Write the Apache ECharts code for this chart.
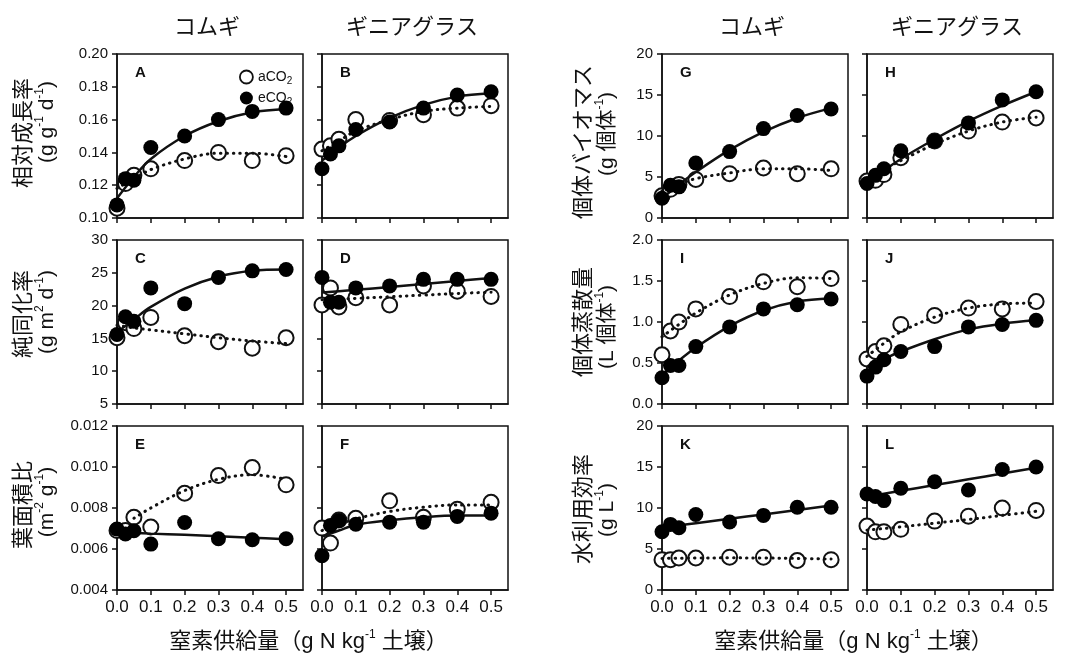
<!DOCTYPE html>
<html>
<head>
<meta charset="utf-8">
<script src="https://cdn.jsdelivr.net/npm/echarts@6/dist/echarts.min.js"></script>
<style>
  html, body { margin: 0; padding: 0; background: #fff; }
  #chart { width: 1070px; height: 654px; }
</style>
</head>
<body>
<div id="chart"></div>
<script>
// 窒素供給量 levels (g N kg-1 soil)
const nLevels = [0, 0.025, 0.05, 0.1, 0.2, 0.3, 0.4, 0.5];
// x positions where the fitted curves were read
const fitLevels = [0, 0.05, 0.1, 0.2, 0.3, 0.4, 0.5];
const xTicks = [0, 0.1, 0.2, 0.3, 0.4, 0.5];

// A / B  相対成長率 (コムギ / ギニアグラス)
const aA = [0.106, 0.121, 0.126, 0.130, 0.135, 0.140, 0.135, 0.138];
const eA = [0.108, 0.124, 0.123, 0.143, 0.150, 0.160, 0.165, 0.167];
const aFitA = [0.118, 0.124, 0.1295, 0.136, 0.1395, 0.1395, 0.1375];
const eFitA = [0.112, 0.125, 0.136, 0.150, 0.159, 0.1645, 0.1665];
const aB = [0.142, 0.144, 0.148, 0.160, 0.1595, 0.163, 0.167, 0.1685];
const eB = [0.130, 0.139, 0.144, 0.154, 0.1585, 0.167, 0.175, 0.177];
const aFitB = [0.141, 0.147, 0.153, 0.160, 0.165, 0.167, 0.168];
const eFitB = [0.135, 0.143, 0.150, 0.161, 0.169, 0.174, 0.176];

// C / D  純同化率
const aC = [15.1, 17.4, 16.5, 18.2, 15.4, 14.5, 13.5, 15.1];
const eC = [15.6, 18.3, 17.6, 22.7, 20.3, 24.3, 25.3, 25.5];
const aFitC = [17.0, 16.6, 16.3, 15.7, 15.1, 14.6, 14.2];
const eFitC = [15.9, 17.9, 19.8, 22.6, 24.4, 25.3, 25.5];
const aD = [20.1, 22.7, 19.8, 21.2, 20.1, 23.0, 22.2, 21.4];
const eD = [24.3, 20.5, 20.5, 22.7, 23.0, 24.0, 24.0, 24.0];
const aFitD = [20.9, 21.0, 21.1, 21.35, 21.6, 21.85, 22.05];
const eFitD = [22.0, 22.2, 22.4, 22.85, 23.3, 23.75, 24.2];

// E / F  葉面積比
const aE = [0.0069, 0.0069, 0.00755, 0.00707, 0.00872, 0.00958, 0.00997, 0.00913];
const eE = [0.00697, 0.00673, 0.00689, 0.00624, 0.00729, 0.0065, 0.00645, 0.0065];
const aFitE = [null, 0.0075, 0.0080, 0.00885, 0.0094, 0.00962, 0.0094];
const eFitE = [0.00682, 0.00679, 0.00675, 0.00669, 0.00662, 0.00655, 0.00648];
const aF = [0.00702, 0.00629, 0.00742, 0.0075, 0.00835, 0.00755, 0.00794, 0.00828];
const eF = [0.00567, 0.00715, 0.00739, 0.00721, 0.00731, 0.00731, 0.00759, 0.00775];
const aFitF = [0.0069, 0.0072, 0.00747, 0.00783, 0.00804, 0.00815, 0.00815];
const eFitF = [0.0066, 0.0069, 0.00718, 0.0074, 0.00755, 0.00763, 0.00763];

// G / H  個体バイオマス
const aG = [2.7, 3.5, 4.1, 4.7, 5.4, 6.1, 5.4, 6.0];
const eG = [2.4, 4.0, 3.8, 6.7, 8.1, 10.9, 12.5, 13.3];
const aFitG = [3.3, 4.1, 4.8, 5.5, 6.0, 6.0, 5.8];
const eFitG = [2.4, 4.06, 5.6, 8.3, 10.5, 12.2, 13.4];
const aH = [4.5, 4.6, 5.3, 7.35, 9.4, 10.6, 11.7, 12.2];
const eH = [4.2, 5.2, 6.0, 8.2, 9.4, 11.6, 14.4, 15.4];
const aFitH = [4.6, 5.9, 7.0, 9.0, 10.6, 11.7, 12.3];
const eFitH = [4.4, 5.8, 7.2, 9.6, 11.8, 13.7, 15.4];

// I / J  個体蒸散量
const aI = [0.60, 0.89, 1.00, 1.16, 1.31, 1.49, 1.43, 1.53];
const eI = [0.32, 0.47, 0.47, 0.70, 0.94, 1.16, 1.21, 1.28];
const aFitI = [0.82, 0.97, 1.11, 1.33, 1.47, 1.54, 1.53];
const eFitI = [0.35, 0.53, 0.69, 0.95, 1.14, 1.25, 1.29];
const aJ = [0.55, 0.64, 0.71, 0.97, 1.08, 1.17, 1.16, 1.25];
const eJ = [0.34, 0.45, 0.54, 0.64, 0.70, 0.94, 0.97, 1.02];
const aFitJ = [0.58, 0.74, 0.88, 1.06, 1.17, 1.22, 1.23];
const eFitJ = [0.46, 0.55, 0.64, 0.79, 0.91, 0.98, 1.02];

// K / L  水利用効率
const aK = [3.7, 3.7, 3.9, 3.9, 4.0, 4.0, 3.6, 3.7];
const eK = [7.1, 8.0, 7.6, 9.2, 8.3, 9.1, 10.1, 10.1];
const aFitK = [3.85, 3.88, 3.9, 3.92, 3.9, 3.85, 3.77];
const eFitK = [7.6, 7.87, 8.14, 8.68, 9.22, 9.76, 10.3];
const aL = [7.8, 7.1, 7.1, 7.4, 8.4, 9.0, 10.0, 9.7];
const eL = [11.7, 11.4, 10.9, 12.4, 13.2, 12.2, 14.7, 15.0];
const aFitL = [7.3, 7.5, 7.7, 8.15, 8.6, 9.1, 9.6];
const eFitL = [11.4, 11.75, 12.1, 12.8, 13.5, 14.2, 14.9];

const panels = [
  {id: 'A', col: 0, row: 0, a: aA, e: eA, fa: aFitA, fe: eFitA, min: 0.10, max: 0.20, step: 0.02, dec: 2},
  {id: 'B', col: 1, row: 0, a: aB, e: eB, fa: aFitB, fe: eFitB, min: 0.10, max: 0.20, step: 0.02, dec: 2},
  {id: 'C', col: 0, row: 1, a: aC, e: eC, fa: aFitC, fe: eFitC, min: 5, max: 30, step: 5, dec: 0},
  {id: 'D', col: 1, row: 1, a: aD, e: eD, fa: aFitD, fe: eFitD, min: 5, max: 30, step: 5, dec: 0},
  {id: 'E', col: 0, row: 2, a: aE, e: eE, fa: aFitE, fe: eFitE, min: 0.004, max: 0.012, step: 0.002, dec: 3},
  {id: 'F', col: 1, row: 2, a: aF, e: eF, fa: aFitF, fe: eFitF, min: 0.004, max: 0.012, step: 0.002, dec: 3},
  {id: 'G', col: 2, row: 0, a: aG, e: eG, fa: aFitG, fe: eFitG, min: 0, max: 20, step: 5, dec: 0},
  {id: 'H', col: 3, row: 0, a: aH, e: eH, fa: aFitH, fe: eFitH, min: 0, max: 20, step: 5, dec: 0},
  {id: 'I', col: 2, row: 1, a: aI, e: eI, fa: aFitI, fe: eFitI, min: 0, max: 2, step: 0.5, dec: 1},
  {id: 'J', col: 3, row: 1, a: aJ, e: eJ, fa: aFitJ, fe: eFitJ, min: 0, max: 2, step: 0.5, dec: 1},
  {id: 'K', col: 2, row: 2, a: aK, e: eK, fa: aFitK, fe: eFitK, min: 0, max: 20, step: 5, dec: 0},
  {id: 'L', col: 3, row: 2, a: aL, e: eL, fa: aFitL, fe: eFitL, min: 0, max: 20, step: 5, dec: 0}
];

const colLeft = [117, 322, 662, 867];
const rowTop = [54, 240, 426];
const gridW = 186;
const gridH = 164;

const latin = 'Liberation Sans, Arial, sans-serif';
const jp = '"Noto Sans CJK JP", sans-serif';
const mixed = 'Liberation Sans, "Noto Sans CJK JP", sans-serif';
const ink = '#111';

let grids = [], xAxes = [], yAxes = [], series = [], graphics = [];

panels.forEach((p, i) => {
  const left = colLeft[p.col], top = rowTop[p.row];
  grids.push({
    left: left, top: top, width: gridW, height: gridH,
    show: true, borderColor: ink, borderWidth: 1.5, backgroundColor: 'transparent'
  });
  xAxes.push({
    type: 'value', gridIndex: i, min: 0, max: 0.55,
    axisLine: {show: true, onZero: false, lineStyle: {color: ink, width: 1.5}},
    axisTick: {show: true, length: 5, customValues: xTicks, lineStyle: {color: ink, width: 1.5}},
    axisLabel: {
      show: p.row === 2, customValues: xTicks, margin: 9,
      fontFamily: latin, fontSize: 17, color: ink,
      formatter: v => v.toFixed(1)
    },
    splitLine: {show: false}
  });
  yAxes.push({
    type: 'value', gridIndex: i, min: p.min, max: p.max, interval: p.step,
    axisLine: {show: true, onZero: false, lineStyle: {color: ink, width: 1.5}},
    axisTick: {show: true, length: 5, lineStyle: {color: ink, width: 1.5}},
    axisLabel: {
      show: p.col === 0 || p.col === 2, margin: 9,
      fontFamily: latin, fontSize: 15, color: ink,
      formatter: v => v.toFixed(p.dec)
    },
    splitLine: {show: false}
  });

  const pts = arr => nLevels.map((x, k) => [x, arr[k]]);
  const fit = arr => fitLevels.map((x, k) => [x, arr[k]]).filter(d => d[1] != null);

  series.push({
    name: 'aCO2', type: 'scatter', xAxisIndex: i, yAxisIndex: i, z: 2,
    symbol: 'circle', symbolSize: 15, data: pts(p.a),
    itemStyle: {color: '#fff', borderColor: ink, borderWidth: 2, opacity: 1}
  });
  series.push({
    name: 'aFit', type: 'line', xAxisIndex: i, yAxisIndex: i, z: 3,
    data: fit(p.fa), showSymbol: false, smooth: 0.35, silent: true,
    lineStyle: {color: ink, width: 3, type: [0.5, 6], cap: 'round'}
  });
  series.push({
    name: 'eFit', type: 'line', xAxisIndex: i, yAxisIndex: i, z: 3,
    data: fit(p.fe), showSymbol: false, smooth: 0.35, silent: true,
    lineStyle: {color: ink, width: 2.5}
  });
  series.push({
    name: 'eCO2', type: 'scatter', xAxisIndex: i, yAxisIndex: i, z: 4,
    symbol: 'circle', symbolSize: 15, data: pts(p.e),
    itemStyle: {color: '#000', opacity: 1}
  });

  // panel letter
  graphics.push({
    type: 'text', x: left + 18, y: top + 11, z: 10,
    style: {text: p.id, fontFamily: latin, fontSize: 15, fontWeight: 'bold', fill: ink, textVerticalAlign: 'top'}
  });
});

// column titles
const colTitles = ['コムギ', 'ギニアグラス', 'コムギ', 'ギニアグラス'];
colTitles.forEach((t, c) => {
  graphics.push({
    type: 'text', x: colLeft[c] + gridW / 2 - 3, y: 26,
    style: {text: t, fontFamily: jp, fontSize: 22, fill: ink, textAlign: 'center', textVerticalAlign: 'middle'}
  });
});

// y-axis titles: [x of first line, y centre of line 1, y centre of line 2, line1, line2]
const supRich = {s: {fontSize: 12, fontFamily: mixed, fill: ink, verticalAlign: 'top'}};
const yTitles = [
  [22, 133, 122, '相対成長率', '(g g{s|-1} d{s|-1})'],
  [22, 314, 312, '純同化率', '(g m{s|2} d{s|-1})'],
  [22, 505, 502, '葉面積比', '(m{s|-2} g{s|-1})'],
  [582, 142, 134, '個体バイオマス', '(g 個体{s|-1})'],
  [582, 322, 327, '個体蒸散量', '(L 個体{s|-1})'],
  [582, 509, 510, '水利用効率', '(g L{s|-1})']
];
yTitles.forEach(t => {
  graphics.push({
    type: 'text', x: t[0], y: t[1], rotation: Math.PI / 2,
    style: {text: t[3], fontFamily: jp, fontSize: 22, fill: ink, textAlign: 'center', textVerticalAlign: 'middle'}
  });
  graphics.push({
    type: 'text', x: t[0] + 25, y: t[2], rotation: Math.PI / 2,
    style: {text: t[4], fontFamily: mixed, fontSize: 21, lineHeight: 26, fill: ink, rich: supRich,
            textAlign: 'center', textVerticalAlign: 'middle'}
  });
});

// x-axis titles
[colLeft[0] + (colLeft[1] + gridW - colLeft[0]) / 2 - 4, colLeft[2] + (colLeft[3] + gridW - colLeft[2]) / 2 - 4].forEach(cx => {
  graphics.push({
    type: 'text', x: cx, y: 642,
    style: {text: '窒素供給量（g N kg{s|-1} 土壌）', fontFamily: mixed, fontSize: 22, lineHeight: 26, fill: ink,
            rich: supRich, textAlign: 'center', textVerticalAlign: 'middle'}
  });
});

const chart = echarts.init(document.getElementById('chart'));
chart.setOption({
  backgroundColor: '#fff',
  animation: false,
  grid: grids,
  xAxis: xAxes,
  yAxis: yAxes,
  legend: {
    left: 234, top: 63, orient: 'vertical', itemGap: 3,
    itemWidth: 13, itemHeight: 13, selectedMode: false,
    data: [
      {name: 'aCO2', icon: 'circle', itemStyle: {color: '#fff', borderColor: ink, borderWidth: 1.8}},
      {name: 'eCO2', icon: 'circle', itemStyle: {color: '#000'}}
    ],
    formatter: n => n.slice(0, 3) + '{s|2}',
    textStyle: {fontFamily: latin, fontSize: 14, color: ink, lineHeight: 18,
                rich: {s: {fontFamily: latin, fontSize: 10, color: ink, verticalAlign: 'bottom'}}}
  },
  graphic: graphics,
  series: series
});
</script>
</body>
</html>
